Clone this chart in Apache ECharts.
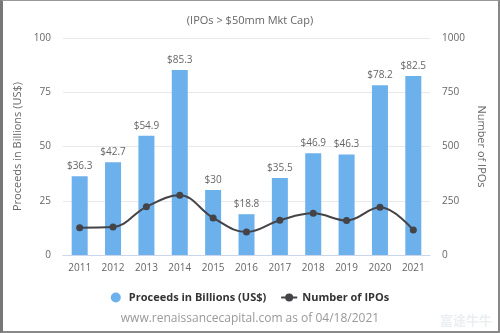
<!DOCTYPE html>
<html>
<head>
<meta charset="utf-8">
<script src="https://cdn.jsdelivr.net/npm/echarts@6/dist/echarts.min.js"></script>
<style>
html,body{margin:0;padding:0;background:#fff;}
#frame{position:absolute;left:0;top:0;width:500px;height:333px;box-sizing:border-box;border-left:3px solid #777;border-top:1px solid #999;border-right:2px solid #888;border-bottom:2px solid #888;}
#c{position:absolute;left:0;top:0;width:500px;height:333px;}
</style>
</head>
<body>
<div id="c"></div>
<div id="frame"></div>
<script>
const years = ['2011','2012','2013','2014','2015','2016','2017','2018','2019','2020','2021'];
const proceeds = [36.3, 42.7, 54.9, 85.3, 30, 18.8, 35.5, 46.9, 46.3, 78.2, 82.5];
const ipoCounts = [126, 129, 222, 275, 171, 106, 160, 192, 159, 220, 115];
const leftTicks = [0, 25, 50, 75, 100];
const rightTicks = [0, 250, 500, 750, 1000];

const chart = echarts.init(document.getElementById('c'), null, {renderer: 'canvas'});
const font = 'Open Sans, Lato, sans-serif';
chart.setOption({
  animation: false,
  textStyle: {fontFamily: font},
  title: {
    text: '(IPOs > $50mm Mkt Cap)',
    left: 'center', top: 10,
    textStyle: {fontSize: 11, fontWeight: 'normal', color: '#666', fontFamily: font}
  },
  legend: {
    top: 287, left: 'center',
    itemGap: 14,
    textStyle: {fontSize: 11, fontWeight: 'bold', color: '#333', fontFamily: font},
    data: [
      {name: 'Proceeds in Billions (US$)', icon: 'circle'},
      {name: 'Number of IPOs'}
    ],
    itemWidth: 16, itemHeight: 10
  },
  grid: {left: 63, right: 70, top: 38, bottom: 78},
  xAxis: {
    type: 'category',
    data: years,
    axisTick: {show: false},
    axisLine: {lineStyle: {color: '#ccd6eb'}},
    axisLabel: {color: '#666', fontSize: 10, margin: 8}
  },
  yAxis: [
    {
      type: 'value', min: leftTicks[0], max: leftTicks[leftTicks.length-1], interval: 25,
      name: 'Proceeds in Billions (US$)', nameLocation: 'middle', nameGap: 36, nameRotate: 90,
      nameTextStyle: {color: '#666', fontSize: 11},
      axisLabel: {color: '#666', fontSize: 10, margin: 12, formatter: v => String(v)},
      splitLine: {lineStyle: {color: '#e9e9e9'}},
      axisLine: {show: false}, axisTick: {show: false}
    },
    {
      type: 'value', min: rightTicks[0], max: rightTicks[rightTicks.length-1], interval: 250,
      name: 'Number of IPOs', nameLocation: 'middle', nameGap: 46, nameRotate: -90,
      nameTextStyle: {color: '#666', fontSize: 11},
      axisLabel: {color: '#666', fontSize: 10, margin: 12, formatter: v => String(v)},
      splitLine: {show: false},
      axisLine: {show: false}, axisTick: {show: false}
    }
  ],
  series: [
    {
      name: 'Proceeds in Billions (US$)',
      type: 'bar',
      data: proceeds,
      barWidth: 16,
      itemStyle: {color: '#6cb0ec'},
      label: {
        show: true, position: 'top', distance: 5,
        color: '#666', fontSize: 10,
        formatter: p => '$' + p.value
      }
    },
    {
      name: 'Number of IPOs',
      type: 'line',
      yAxisIndex: 1,
      data: ipoCounts,
      smooth: 0.4,
      symbol: 'circle', symbolSize: 7,
      lineStyle: {color: '#434348', width: 2},
      itemStyle: {color: '#434348'},
      z: 5
    }
  ],
  graphic: [
    {
      type: 'text', left: 'center', top: 313,
      style: {text: 'www.renaissancecapital.com as of 04/18/2021', fill: '#999', font: '12px ' + font}
    },
    {
      type: 'text', right: 8, top: 314,
      style: {text: '富途牛牛', fill: 'rgba(190,198,208,0.3)', font: 'bold 13px "Noto Sans CJK SC"'}
    }
  ]
});
</script>
</body>
</html>
